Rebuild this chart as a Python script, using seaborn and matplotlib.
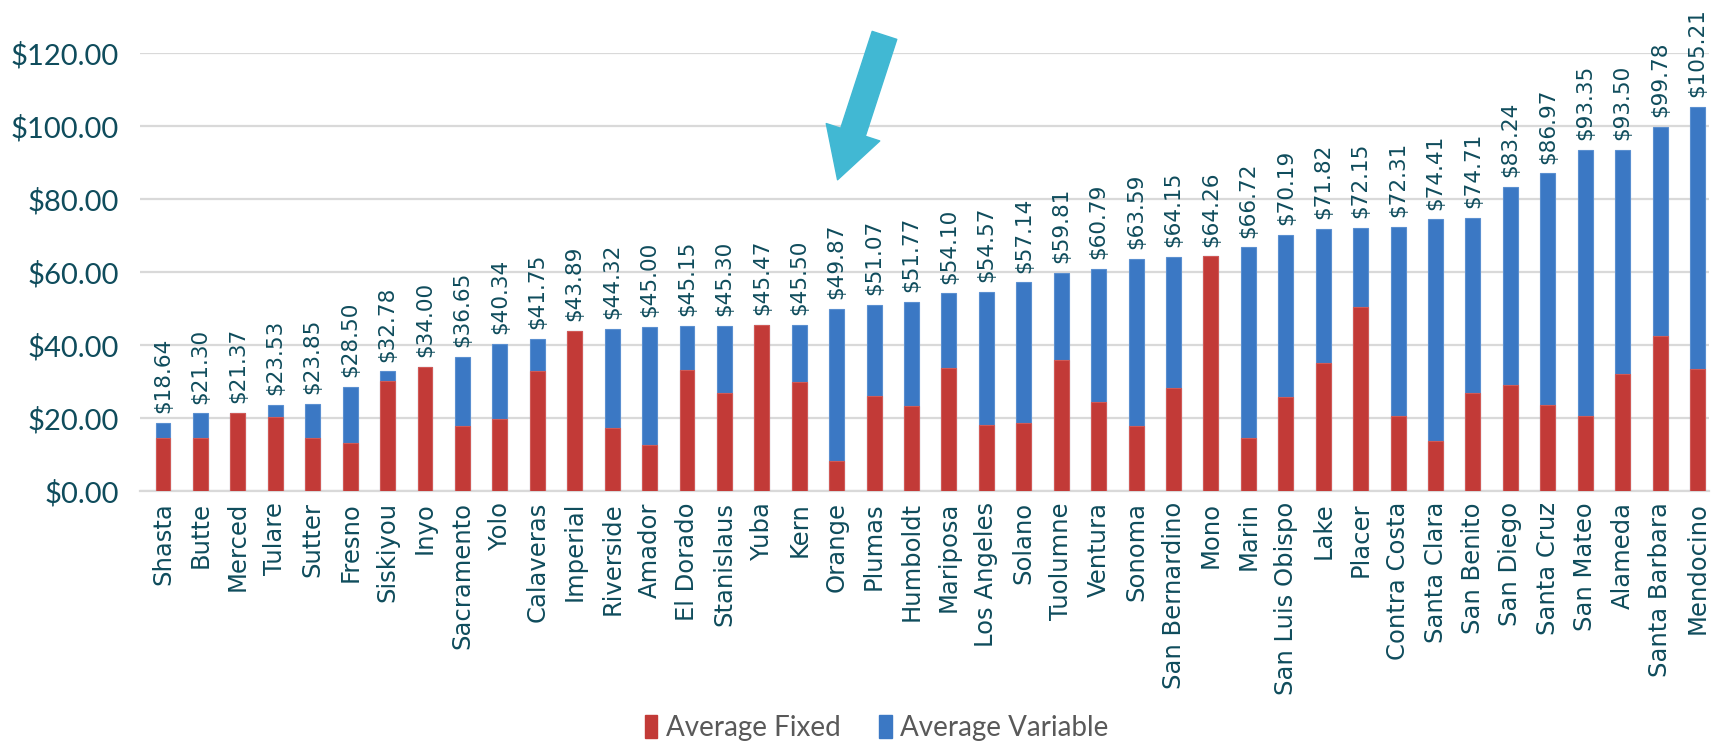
import seaborn as sns
import matplotlib.pyplot as plt
import pandas as pd
from matplotlib.patches import FancyArrowPatch, Patch

counties = ['Shasta', 'Butte', 'Merced', 'Tulare', 'Sutter', 'Fresno', 'Siskiyou', 'Inyo',
            'Sacramento', 'Yolo', 'Calaveras', 'Imperial', 'Riverside', 'Amador', 'El Dorado',
            'Stanislaus', 'Yuba', 'Kern', 'Orange', 'Plumas', 'Humboldt', 'Mariposa',
            'Los Angeles', 'Solano', 'Tuolumne', 'Ventura', 'Sonoma', 'San Bernardino', 'Mono',
            'Marin', 'San Luis Obispo', 'Lake', 'Placer', 'Contra Costa', 'Santa Clara',
            'San Benito', 'San Diego', 'Santa Cruz', 'San Mateo', 'Alameda', 'Santa Barbara',
            'Mendocino']
total = [18.64, 21.30, 21.37, 23.53, 23.85, 28.50, 32.78, 34.00, 36.65, 40.34, 41.75, 43.89,
         44.32, 45.00, 45.15, 45.30, 45.47, 45.50, 49.87, 51.07, 51.77, 54.10, 54.57, 57.14,
         59.81, 60.79, 63.59, 64.15, 64.26, 66.72, 70.19, 71.82, 72.15, 72.31, 74.41, 74.71,
         83.24, 86.97, 93.35, 93.50, 99.78, 105.21]
# fixed part read off the red segments (estimated)
fixed = [14.6, 14.6, 21.37, 20.2, 14.6, 13.1, 30.0, 34.00, 17.9, 19.6, 32.8, 43.89,
         17.3, 12.5, 33.1, 26.8, 45.47, 29.8, 8.1, 26.0, 23.3, 33.8, 18.2, 18.6,
         35.9, 24.4, 17.9, 28.3, 64.26, 14.6, 25.7, 35.1, 50.3, 20.6, 13.8,
         26.9, 29.0, 23.6, 20.6, 32.0, 42.5, 33.4]
variable = [t - f for t, f in zip(total, fixed)]

df = pd.DataFrame({'county': counties, 'fixed': fixed, 'variable': variable, 'total': total})

red = '#C23A37'
blue = '#3B78C4'
teal = '#0F4C5C'

sns.set_theme(style='white')
fig = plt.figure(figsize=(17.26, 7.47), dpi=100)
ax = fig.add_axes([0.081, 0.3427, 0.909, 0.5866])

sns.barplot(data=df, x='county', y='total', color=blue, width=0.4, saturation=1, ax=ax,
            zorder=3, edgecolor='#5A8FD0', linewidth=0.8)
sns.barplot(data=df, x='county', y='fixed', color=red, width=0.4, saturation=1, ax=ax,
            zorder=4, edgecolor='#D05A57', linewidth=0.8)

for i, t in enumerate(df['total']):
    ax.annotate(f'${t:.2f}', (i, t), xytext=(0, 7), textcoords='offset points',
                rotation=90, ha='center', va='bottom', fontsize=15.5, color=teal,
                family='DejaVu Sans', annotation_clip=False)

ax.set_ylim(0, 120)
ax.set_xlim(-0.62, len(counties) - 1 + 0.3)
ax.set_yticks(range(0, 121, 20))
ax.set_yticklabels([f'${v:.2f}' for v in range(0, 121, 20)], fontsize=21, color=teal, family='Lato')
ax.set_xticks(range(len(counties)))
ax.set_xticklabels(counties, rotation=90, fontsize=17.5, color=teal, family='DejaVu Sans')
ax.set_xlabel('')
ax.set_ylabel('')
ax.tick_params(axis='x', length=0, pad=8)
ax.tick_params(axis='y', length=0, pad=15)
ax.grid(axis='y', color='#D9D9D9', linewidth=1.6, zorder=0)
for s in ['top', 'right', 'left']:
    ax.spines[s].set_visible(False)
ax.spines['bottom'].set_color('#D9D9D9')
ax.spines['bottom'].set_linewidth(1.6)

arrow = FancyArrowPatch((19.3, 125.5), (18.0, 84.5),
                        arrowstyle='simple,head_length=1.2,head_width=1.35,tail_width=0.62',
                        mutation_scale=30, color='#41B8D3', clip_on=False, zorder=6)
ax.add_patch(arrow)

handles = [Patch(color=red, label='Average Fixed'), Patch(color=blue, label='Average Variable')]
leg = fig.legend(handles=handles, loc='center', bbox_to_anchor=(0.508, 0.025), ncol=2,
                 frameon=False, prop={'family': 'Lato', 'size': 20}, handlelength=0.45,
                 handleheight=0.9, columnspacing=1.4, handletextpad=0.3)
for txt in leg.get_texts():
    txt.set_color('#595959')

fig.savefig('out.png', dpi=100)
